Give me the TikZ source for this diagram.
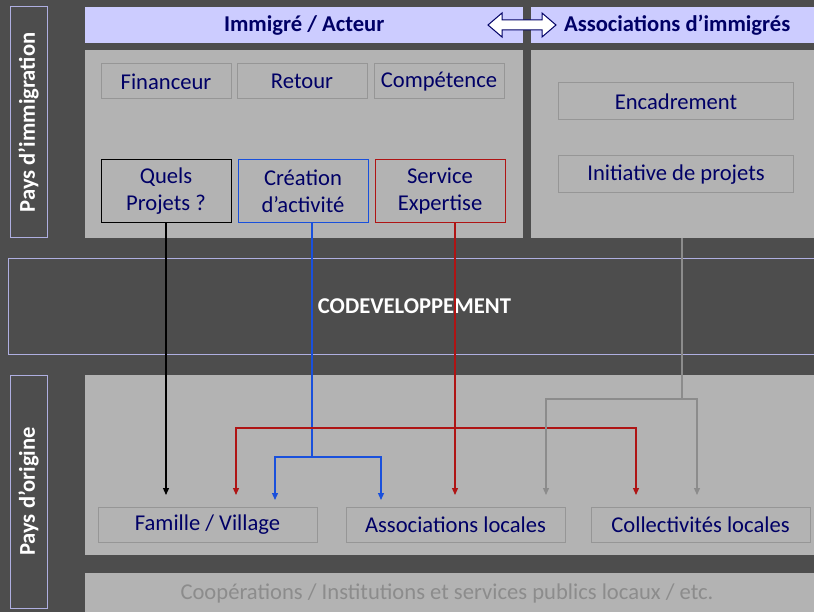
\documentclass[tikz,border=0pt]{standalone}
\usepackage{fontspec}
\setmainfont{Carlito}
\usetikzlibrary{positioning,arrows.meta}
\definecolor{slate}{RGB}{77,77,77}
\definecolor{panelgrey}{RGB}{179,179,179}
\definecolor{lavender}{RGB}{204,204,255}
\definecolor{lavline}{RGB}{175,175,225}
\definecolor{navy}{RGB}{0,0,102}
\definecolor{boxgrey}{RGB}{150,150,150}
\definecolor{linegrey}{RGB}{140,140,140}
\definecolor{actblue}{RGB}{25,80,220}
\definecolor{servred}{RGB}{175,20,20}
\tikzstyle{panel} = [fill=panelgrey, inner sep=0pt, outer sep=0pt, anchor=north west]
\tikzstyle{headbar} = [fill=lavender, text=navy, font=\bfseries, inner sep=0pt, minimum height=36pt, anchor=north west]
\tikzstyle{tag} = [draw=boxgrey, line width=1pt, text=navy, minimum width=130pt, minimum height=35pt, inner sep=0pt, outer sep=0pt, align=center]
\tikzstyle{sidetag} = [draw=lavline, line width=1pt, text=white, font=\bfseries, rotate=90, minimum height=37pt, inner sep=0pt]
\tikzstyle{link} = [line width=1.3pt]
\newcommand{\greypanel}[5]{
	\node(#1) at (#2,#3) [panel, minimum width=#4pt, minimum height=#5pt] {};
}

\begin{document}
\fontsize{22.6}{27}\selectfont
\begin{tikzpicture}[x=1pt, y=-1pt, >={Triangle[width=6pt,length=7pt]}]
	\fill[slate] (0,0) rectangle (814,612);
	\useasboundingbox (0,0) rectangle (814,612);
	
	\node(leftbar) at (85,7) [headbar, minimum width=438pt] {Immigré / Acteur};
	\node(rightbar) at (531,7) [headbar, minimum width=292pt] {Associations d’immigrés};
	\draw[navy, fill=white, line width=1pt] (488,25) -- (502,13) -- (502,20) -- (542,20) -- (542,13) -- (556,25) -- (542,37) -- (542,30) -- (502,30) -- (502,37) -- cycle;
	
	\greypanel{lpanel}{85}{50}{438}{188}
	\greypanel{rpanel}{531}{50}{292}{188}
	\greypanel{opanel}{85}{375}{738}{180}
	\greypanel{cpanel}{85}{573}{738}{50}
	
	\node(immig) at (28.5,122.5) [sidetag, minimum width=231pt] {Pays d’immigration};
	\node(orig) at (28.5,491.5) [sidetag, minimum width=233pt] {Pays d’origine};
	
	\node(fin) at (166,81.5) [tag] {Financeur};
	\node(ret) [tag, right=6pt of fin] {Retour};
	\node(comp) [tag, right=7pt of ret] {Compétence};
	
	\node(quels) at (166,191.5) [tag, draw=black, minimum height=63pt] {Quels\\Projets ?};
	\node(crea) [tag, draw=actblue, minimum height=63pt, right=7pt of quels] {Création\\d’activité};
	\node(serv) [tag, draw=servred, minimum height=63pt, right=7pt of crea] {Service\\Expertise};
	
	\node(encad) at (676,101.5) [tag, minimum width=235pt, minimum height=37pt] {Encadrement};
	\node(initia) [tag, minimum width=235pt, minimum height=37pt, below=36pt of encad] {Initiative de projets};
	
	\node(codev) at (414.5,306.5) [fill=slate, text=white, font=\bfseries, minimum width=811pt, minimum height=95pt, inner sep=0pt] {CODEVELOPPEMENT};
	\draw[lavline, line width=1pt] (codev.north east) -- (codev.north west) -- (codev.south west) -- (codev.south east);
	
	\node(fam) at (207.5,524.5) [tag, minimum width=219pt] {Famille / Village};
	\node(assoc) [tag, minimum width=219pt, right=29pt of fam] {Associations locales};
	\node(coll) [tag, minimum width=219pt, right=26pt of assoc] {Collectivités locales};
	
	\node(coop) at (447,593) [text=linegrey] {Coopérations / Institutions et services publics locaux / etc.};
	
	% links down to the pays d'origine
	\coordinate (tiplevel) at (0,495);
	\coordinate (bfork) at (312,457);
	\coordinate (bleft) at (275,500);
	\coordinate (bright) at (381,500);
	\coordinate (rfork) at (455,428);
	\coordinate (rleft) at (236,495);
	\coordinate (rright) at (636,495);
	\coordinate (gfork) at (682,399);
	\coordinate (gleft) at (546,495);
	\coordinate (gright) at (697,495);
	
	\draw[link, ->] (quels.south) -- (quels.south |- tiplevel);
	
	\draw[link, actblue] (bfork |- crea.south) -- (bfork);
	\draw[link, actblue, <->] (bleft) |- (bfork) -| (bright);
	
	\draw[link, servred, ->] (rfork |- serv.south) -- (rfork |- tiplevel);
	\draw[link, servred, <->] (rleft) |- (rfork) -| (rright);
	
	\draw[link, linegrey] (gfork |- rpanel.south) -- (gfork);
	\draw[link, linegrey, <->] (gleft) |- (gfork) -| (gright);
\end{tikzpicture}
\end{document}
